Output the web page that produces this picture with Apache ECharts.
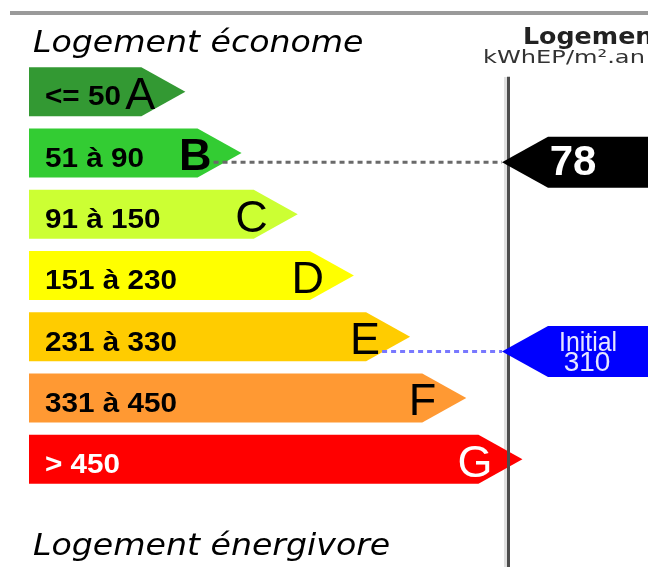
<!DOCTYPE html>
<html><head><meta charset="utf-8">
<script src="https://cdn.jsdelivr.net/npm/echarts/dist/echarts.min.js"></script>
<style>html,body{margin:0;padding:0;background:#fff}#c{width:648px;height:567px}</style>
</head><body><div id="c"></div>
<script>
// ---- data ----
const classes = ['A', 'B', 'C', 'D', 'E', 'F', 'G'];
const rangeLabels = ['<= 50', '51 à 90', '91 à 150', '151 à 230', '231 à 330', '331 à 450', '> 450'];
const classLower = [0, 51, 91, 151, 231, 331, 451];
const classUpper = [50, 90, 150, 230, 330, 450, 550];
const arrowRank = [1, 2, 3, 4, 5, 6, 7];
const indicatorValues = [78, 310];
const indicatorLabels = ['', 'Initial'];
const topTitle = 'Logement économe';
const bottomTitle = 'Logement énergivore';
const scaleTitle = 'Logement';
const scaleUnit = 'kWhEP/m².an';

// ---- styles ----
const classColors = ['#339933', '#33cc33', '#ccff33', '#ffff00', '#ffcc00', '#ff9933', '#ff0000'];
const classTextColors = ['#000', '#000', '#000', '#000', '#000', '#000', '#fff'];
const indicatorColors = ['#000000', '#0000ff'];
const indicatorLineColors = ['#6a6a6a', '#7878ff'];

const X_MIN = -1, X_MAX = 10;
const TIP_W = 44;
const SCALE_X = 508;
const LF = '"Liberation Sans", Arial, sans-serif';
const DF = '"DejaVu Sans", sans-serif';

function classOf(v) {
  let ci = classUpper.findIndex(u => v <= u);
  return ci < 0 ? classes.length - 1 : ci;
}

function renderBar(params, api) {
  const i = api.value(1);
  const start = api.coord([X_MIN, i]);
  const end = api.coord([api.value(0), i]);
  const band = api.size([0, 1])[1];
  const h = band * 0.8;
  const cy = start[1];
  const top = cy - h / 2, bot = cy + h / 2;
  const x0 = start[0], x1 = end[0];
  return {
    type: 'group',
    children: [
      { type: 'polygon', shape: { points: [[x0, top], [x1, top], [x1 + TIP_W, cy], [x1, bot], [x0, bot]] },
        style: { fill: classColors[i] } },
      { type: 'text', x: x0 + 16, y: cy + 6, scaleX: 1.06,
        style: { text: rangeLabels[i], x: 0, y: 0, fill: classTextColors[i], font: 'bold 28px ' + LF, align: 'left', verticalAlign: 'middle' } },
      { type: 'text', x: x1 + 14, y: cy + 5,
        style: { text: classes[i], x: 0, y: 0, fill: classTextColors[i], font: (i === 1 ? 'bold ' : '') + '45px ' + LF, align: 'right', verticalAlign: 'middle' } }
    ]
  };
}

function renderScaleLine(params, api) {
  const topY = api.coord([0, 0])[1] - 15;
  return { type: 'rect', shape: { x: SCALE_X - 1, y: topY, width: 3, height: 600 }, style: { fill: '#4d4d4d' } };
}

function renderIndicator(params, api) {
  const v = api.value(0);
  const k = api.value(1);
  const ci = classOf(v);
  const frac = (v - classLower[ci]) / (classUpper[ci] - classLower[ci]);
  const c = api.coord([X_MIN, ci]);
  const band = api.size([0, 1])[1];
  const barH = band * 0.8;
  const y = c[1] - barH / 2 + frac * barH;
  const letterEnd = api.coord([arrowRank[ci], ci])[0] + 14;
  const tipX = SCALE_X - 6, bodyX = tipX + 46, h = 51;
  const children = [
    { type: 'line', shape: { x1: letterEnd + 2, y1: y, x2: tipX, y2: y },
      style: { stroke: indicatorLineColors[k], lineWidth: 3, lineDash: [5, 4] } },
    { type: 'polygon', shape: { points: [[tipX, y], [bodyX, y - h / 2], [700, y - h / 2], [700, y + h / 2], [bodyX, y + h / 2]] },
      style: { fill: indicatorColors[k] } }
  ];
  if (indicatorLabels[k]) {
    children.push({ type: 'text', x: bodyX + 40, y: y - 8, scaleX: 0.92,
      style: { text: indicatorLabels[k], x: 0, y: 0, fill: '#e6e6ff', font: '27px ' + LF, align: 'center', verticalAlign: 'middle' } });
    children.push({ type: 'text', x: bodyX + 39, y: y + 12,
      style: { text: String(v), x: 0, y: 0, fill: '#e6e6ff', font: '28px ' + LF, align: 'center', verticalAlign: 'middle' } });
  } else {
    children.push({ type: 'text', x: bodyX + 25, y: y + 1,
      style: { text: String(v), x: 0, y: 0, fill: '#fff', font: 'bold 42px ' + LF, align: 'center', verticalAlign: 'middle' } });
  }
  return { type: 'group', children };
}

const chart = echarts.init(document.getElementById('c'), null, { renderer: 'canvas' });
chart.setOption({
  animation: false,
  backgroundColor: '#fff',
  grid: { left: 29, right: 1, top: 61, bottom: 77 },
  xAxis: { type: 'value', min: X_MIN, max: X_MAX, show: false },
  yAxis: { type: 'category', data: classes, inverse: true, show: false },
  graphic: [
    { type: 'rect', shape: { x: 10, y: 11, width: 640, height: 4 }, style: { fill: '#9a9a9a' } },
    { type: 'rect', shape: { x: SCALE_X - 4, y: 77, width: 3, height: 500 }, style: { fill: '#e0e0e0' } },
    { type: 'text', x: 33, y: 44, scaleX: 1.07,
      style: { text: topTitle, x: 0, y: 0, fill: '#000', font: 'italic 31px ' + DF, align: 'left', verticalAlign: 'middle' } },
    { type: 'text', x: 33, y: 547, scaleX: 1.07,
      style: { text: bottomTitle, x: 0, y: 0, fill: '#000', font: 'italic 31px ' + DF, align: 'left', verticalAlign: 'middle' } },
    { type: 'text', x: 523, y: 38, scaleX: 1.1,
      style: { text: scaleTitle, x: 0, y: 0, fill: '#222', font: 'bold 23px ' + DF, align: 'left', verticalAlign: 'middle' } },
    { type: 'text', x: 483, y: 58, scaleX: 1.34,
      style: { text: scaleUnit, x: 0, y: 0, fill: '#333', font: '18px ' + DF, align: 'left', verticalAlign: 'middle' } }
  ],
  series: [
    { type: 'custom', z: 2, renderItem: renderBar, encode: { x: 0, y: 1 },
      data: classes.map((c, i) => [arrowRank[i], i]) },
    { type: 'custom', z: 3, renderItem: renderScaleLine, data: [[0, 0]] },
    { type: 'custom', z: 4, renderItem: renderIndicator, encode: { x: 0 },
      data: indicatorValues.map((v, k) => [v, k]) }
  ]
});
</script>
</body></html>
